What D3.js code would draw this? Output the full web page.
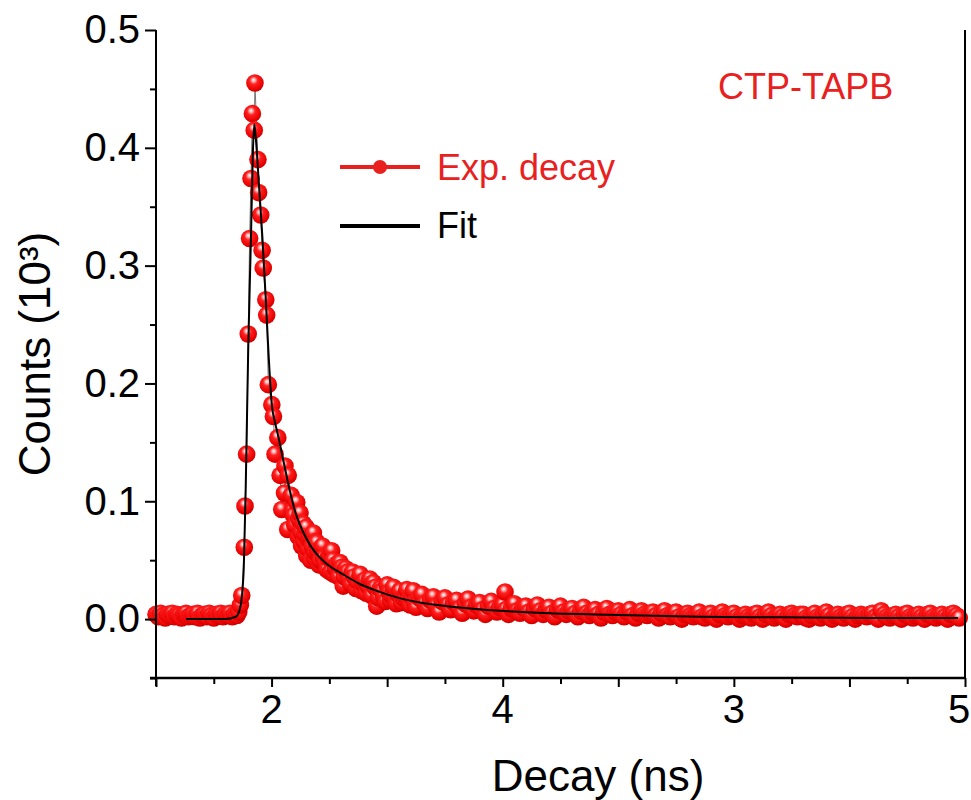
<!DOCTYPE html>
<html>
<head>
<meta charset="utf-8">
<script src="https://cdn.jsdelivr.net/npm/d3@7"></script>
<style>
  body { margin: 0; background: #fff; }
  svg { font-family: "Liberation Sans", Arial, sans-serif; display: block; }
</style>
</head>
<body>
<div id="container"></div>
<script>

// Before the pulse
const baseTime = [
  1.500, 1.510, 1.520, 1.530, 1.540, 1.550, 1.560, 1.570, 1.580, 1.590,
  1.600, 1.610, 1.620, 1.630, 1.640, 1.650, 1.660, 1.670, 1.680, 1.690,
  1.700, 1.710, 1.720, 1.730, 1.740, 1.750, 1.760, 1.770, 1.780, 1.790,
  1.800, 1.810, 1.820, 1.830, 1.840, 1.850, 1.858, 1.865
];
const baseCounts = [
  0.004, 0.002, 0.005, 0.003, 0.001, 0.004, 0.003, 0.005, 0.002, 0.004,
  0.003, 0.001, 0.004, 0.005, 0.002, 0.003, 0.004, 0.002, 0.005, 0.001,
  0.003, 0.004, 0.002, 0.005, 0.003, 0.001, 0.004, 0.003, 0.005, 0.002,
  0.004, 0.003, 0.005, 0.002, 0.004, 0.003, 0.006, 0.012
];

// Rise, peak and fast decay
const peakTime = [
  1.871, 1.882, 1.885, 1.892, 1.899, 1.905, 1.911, 1.917, 1.925, 1.928,
  1.941, 1.944, 1.953, 1.959, 1.964, 1.975, 1.979, 1.986, 2.001, 2.008,
  2.015, 2.027, 2.037, 2.044, 2.056, 2.058, 2.070, 2.072, 2.085, 2.090,
  2.095, 2.100, 2.109, 2.115, 2.118, 2.123, 2.127, 2.130, 2.137, 2.141,
  2.145, 2.149, 2.152, 2.157, 2.160, 2.165, 2.170, 2.175, 2.181, 2.185,
  2.188, 2.192, 2.195, 2.200, 2.205, 2.210, 2.215, 2.220, 2.225, 2.232,
  2.239, 2.245, 2.250, 2.255, 2.260, 2.265, 2.270, 2.277, 2.283, 2.290,
  2.296, 2.303, 2.310, 2.315, 2.320, 2.328, 2.335, 2.342, 2.350, 2.357,
  2.365, 2.372, 2.383, 2.390, 2.395, 2.402, 2.410, 2.418, 2.425, 2.432,
  2.440, 2.448, 2.455, 2.462, 2.470, 2.478, 2.485, 2.492, 2.500, 2.508,
  2.515, 2.520, 2.527, 2.534, 2.540, 2.548, 2.555, 2.562, 2.570, 2.578,
  2.585, 2.592, 2.600, 2.606, 2.613, 2.619
];
const peakCounts = [
  0.020, 0.061, 0.096, 0.140, 0.242, 0.323, 0.374, 0.429, 0.415, 0.455,
  0.390, 0.362, 0.343, 0.313, 0.298, 0.271, 0.258, 0.199, 0.182, 0.172,
  0.140, 0.154, 0.122, 0.093, 0.107, 0.130, 0.076, 0.122, 0.105, 0.092,
  0.088, 0.080, 0.099, 0.070, 0.085, 0.090, 0.074, 0.062, 0.081, 0.066,
  0.072, 0.078, 0.054, 0.060, 0.068, 0.070, 0.050, 0.062, 0.073, 0.052,
  0.057, 0.066, 0.065, 0.058, 0.046, 0.050, 0.060, 0.062, 0.052, 0.048,
  0.042, 0.052, 0.055, 0.040, 0.058, 0.050, 0.038, 0.043, 0.047, 0.036,
  0.048, 0.044, 0.028, 0.036, 0.043, 0.040, 0.034, 0.030, 0.040, 0.036,
  0.026, 0.032, 0.038, 0.024, 0.030, 0.033, 0.022, 0.028, 0.034, 0.020,
  0.031, 0.027, 0.011, 0.018, 0.026, 0.024, 0.019, 0.015, 0.029, 0.023,
  0.016, 0.020, 0.027, 0.017, 0.013, 0.021, 0.024, 0.014, 0.018, 0.020,
  0.025, 0.016, 0.012, 0.019, 0.024, 0.014
];

// Long tail
const tailTime = [
  2.6250, 2.6375, 2.6500, 2.6625, 2.6750, 2.6875, 2.7000, 2.7125, 2.7250, 2.7375,
  2.7500, 2.7625, 2.7750, 2.7875, 2.8000, 2.8125, 2.8250, 2.8375, 2.8500, 2.8625,
  2.8750, 2.8875, 2.9000, 2.9125, 2.9250, 2.9375, 2.9500, 2.9625, 2.9750, 2.9875,
  3.0000, 3.0100, 3.0125, 3.0250, 3.0375, 3.0500, 3.0625, 3.0750, 3.0875, 3.1000,
  3.1125, 3.1250, 3.1375, 3.1500, 3.1625, 3.1750, 3.1875, 3.2000, 3.2125, 3.2250,
  3.2375, 3.2500, 3.2625, 3.2750, 3.2875, 3.3000, 3.3125, 3.3250, 3.3375, 3.3500,
  3.3625, 3.3750, 3.3875, 3.4000, 3.4125, 3.4250, 3.4375, 3.4500, 3.4625, 3.4750,
  3.4875, 3.5000, 3.5125, 3.5250, 3.5375, 3.5500, 3.5625, 3.5750, 3.5875, 3.6000,
  3.6125, 3.6250, 3.6375, 3.6500, 3.6625, 3.6750, 3.6875, 3.7000, 3.7125, 3.7250,
  3.7375, 3.7500, 3.7625, 3.7750, 3.7875, 3.8000, 3.8125, 3.8250, 3.8375, 3.8500,
  3.8625, 3.8750, 3.8875, 3.9000, 3.9125, 3.9250, 3.9375, 3.9500, 3.9625, 3.9750,
  3.9875, 4.0000, 4.0125, 4.0250, 4.0375, 4.0500, 4.0625, 4.0750, 4.0875, 4.1000,
  4.1125, 4.1250, 4.1375, 4.1500, 4.1625, 4.1750, 4.1875, 4.2000, 4.2125, 4.2250,
  4.2375, 4.2500, 4.2625, 4.2750, 4.2875, 4.3000, 4.3125, 4.3250, 4.3375, 4.3500,
  4.3625, 4.3750, 4.3875, 4.4000, 4.4125, 4.4250, 4.4375, 4.4500, 4.4625, 4.4750,
  4.4875, 4.5000, 4.5125, 4.5250, 4.5375, 4.5500, 4.5625, 4.5750, 4.5875, 4.6000,
  4.6125, 4.6250, 4.6375, 4.6500, 4.6625, 4.6750, 4.6875, 4.7000, 4.7125, 4.7250,
  4.7375, 4.7500, 4.7625, 4.7750, 4.7875, 4.8000, 4.8125, 4.8250, 4.8375, 4.8500,
  4.8625, 4.8750, 4.8875, 4.9000, 4.9125, 4.9250, 4.9375, 4.9500, 4.9625, 4.9750
];
const tailCounts = [
  0.010, 0.018, 0.021, 0.013, 0.009, 0.016, 0.019, 0.011, 0.006, 0.015,
  0.018, 0.012, 0.008, 0.014, 0.016, 0.009, 0.005, 0.013, 0.017, 0.010,
  0.007, 0.012, 0.014, 0.008, 0.004, 0.011, 0.015, 0.009, 0.006, 0.010,
  0.012, 0.023, 0.008, 0.004, 0.009, 0.013, 0.007, 0.005, 0.010, 0.011,
  0.006, 0.003, 0.009, 0.012, 0.007, 0.004, 0.008, 0.010, 0.005, 0.002,
  0.008, 0.011, 0.006, 0.004, 0.007, 0.009, 0.005, 0.002, 0.007, 0.010,
  0.005, 0.003, 0.006, 0.008, 0.004, 0.001, 0.006, 0.009, 0.004, 0.003,
  0.006, 0.007, 0.004, 0.002, 0.006, 0.008, 0.003, 0.001, 0.005, 0.007,
  0.004, 0.003, 0.005, 0.006, 0.003, 0.001, 0.005, 0.007, 0.003, 0.002,
  0.005, 0.006, 0.002, 0.000, 0.004, 0.005, 0.003, 0.002, 0.004, 0.006,
  0.002, 0.001, 0.004, 0.005, 0.002, 0.000, 0.004, 0.006, 0.003, 0.002,
  0.004, 0.005, 0.002, 0.000, 0.003, 0.004, 0.002, 0.001, 0.004, 0.005,
  0.002, 0.000, 0.004, 0.006, 0.003, 0.001, 0.003, 0.004, 0.002, 0.000,
  0.004, 0.005, 0.003, 0.002, 0.004, 0.004, 0.001, 0.000, 0.003, 0.005,
  0.002, 0.001, 0.004, 0.006, 0.003, 0.000, 0.003, 0.004, 0.002, 0.001,
  0.004, 0.005, 0.002, 0.000, 0.003, 0.004, 0.003, 0.002, 0.004, 0.005,
  0.002, 0.000, 0.007, 0.004, 0.002, 0.001, 0.003, 0.004, 0.002, 0.000,
  0.004, 0.005, 0.002, 0.001, 0.003, 0.004, 0.002, 0.000, 0.004, 0.005,
  0.002, 0.001, 0.003, 0.004, 0.002, 0.000, 0.004, 0.005, 0.003, 0.001
];

// Fitted curve
const fitTime = [
  1.630, 1.800, 1.845, 1.862, 1.872, 1.880, 1.888, 1.899, 1.911, 1.919,
  1.925, 1.931, 1.945, 1.960, 1.974, 1.987, 2.001, 2.015, 2.029, 2.058,
  2.080, 2.101, 2.134, 2.166, 2.200, 2.238, 2.309, 2.380, 2.455, 2.550,
  2.642, 2.800, 2.989, 3.200, 3.400, 3.600, 3.854, 4.200, 4.600, 4.970
];
const fitCounts = [
  0.000, 0.000, 0.002, 0.008, 0.020, 0.045, 0.110, 0.229, 0.325, 0.395,
  0.420, 0.410, 0.370, 0.325, 0.275, 0.225, 0.182, 0.167, 0.155, 0.128,
  0.108, 0.092, 0.075, 0.063, 0.054, 0.047, 0.038, 0.030, 0.024, 0.018,
  0.014, 0.010, 0.007, 0.005, 0.004, 0.003, 0.002, 0.0015, 0.001, 0.001
];

// Axis ticks and labels
const yMajorTicks = [0, 0.1, 0.2, 0.3, 0.4, 0.5];
const yMinorTicks = [-0.05, 0.05, 0.15, 0.25, 0.35, 0.45];
const xMinorTicks = [1.75, 2.25, 2.75, 3.25, 3.75, 4.25, 4.75];
const xMajorTicks = [1.5, 2.0, 2.5, 3.0, 3.5, 4.0, 4.5, 5.0];
const xLabelTicks = [2, 3, 4, 5];
const xTickLabels = ["2", "4", "3", "5"];

const width = 971;
const height = 800;

const marginTop = 30;
const marginRight = 6;
const marginBottom = 122;
const marginLeft = 156;

const red = "#e8211f";

const x = d3.scaleLinear()
    .domain([1.5, 5.0])
    .range([marginLeft, width - marginRight]);

const y = d3.scaleLinear()
    .domain([-0.05, 0.5])
    .range([height - marginBottom, marginTop]);

const svg = d3.create("svg")
    .attr("width", width)
    .attr("height", height);

document.getElementById("container").append(svg.node());

// sphere look for the markers
const grad = svg.append("defs").append("radialGradient")
    .attr("id", "ball")
    .attr("cx", "45%").attr("cy", "40%").attr("r", "60%")
    .attr("fx", "42%").attr("fy", "32%");
grad.append("stop").attr("offset", "0%").attr("stop-color", "#ffffff");
grad.append("stop").attr("offset", "16%").attr("stop-color", "#ffb0b0");
grad.append("stop").attr("offset", "38%").attr("stop-color", "#ff2020");
grad.append("stop").attr("offset", "85%").attr("stop-color", "#e80000");
grad.append("stop").attr("offset", "100%").attr("stop-color", "#c40000");

const expTime = baseTime.concat(peakTime, tailTime);
const expCounts = baseCounts.concat(peakCounts, tailCounts);
const expData = d3.sort(expTime.map((t, i) => ({t: t, v: expCounts[i]})), d => d.t);
const fitData = fitTime.map((t, i) => ({t: t, v: fitCounts[i]}));

// data line (thin)
svg.append("path")
    .datum(expData)
    .attr("fill", "none")
    .attr("stroke", "#777")
    .attr("stroke-width", 1)
    .attr("d", d3.line().x(d => x(d.t)).y(d => y(d.v)));

// markers
svg.append("g")
  .selectAll("circle")
  .data(expData)
  .join("circle")
    .attr("cx", d => x(d.t))
    .attr("cy", d => y(d.v))
    .attr("r", 8.8)
    .attr("fill", "url(#ball)");

// fit line on top
svg.append("path")
    .datum(fitData)
    .attr("fill", "none")
    .attr("stroke", "#000")
    .attr("stroke-width", 2)
    .attr("d", d3.line().curve(d3.curveMonotoneX).x(d => x(d.t)).y(d => y(d.v)));

// y axis
const yAxis = svg.append("g")
    .attr("transform", `translate(${marginLeft},0)`)
    .call(d3.axisLeft(y).tickValues(yMajorTicks).tickSize(11).tickPadding(5)
      .tickFormat(d3.format(".1f")));
yAxis.select(".domain").remove();
yAxis.selectAll("text").attr("font-size", 40).attr("fill", "#000");
yAxis.selectAll("line").attr("stroke-width", 2);

svg.append("g")
    .attr("transform", `translate(${marginLeft},0)`)
    .call(d3.axisLeft(y).tickValues(yMinorTicks).tickSize(6).tickFormat(""))
    .call(g => g.select(".domain").remove())
    .selectAll("line").attr("stroke-width", 2);

svg.append("line")
    .attr("x1", marginLeft).attr("x2", marginLeft)
    .attr("y1", y(0.5)).attr("y2", y(-0.05) + 8)
    .attr("stroke", "#000").attr("stroke-width", 2);

// right border
svg.append("line")
    .attr("x1", x(5)).attr("x2", x(5))
    .attr("y1", y(0.5)).attr("y2", y(-0.05))
    .attr("stroke", "#000").attr("stroke-width", 2);

// x axis
const xAxisY = y(-0.05);
svg.append("g")
    .attr("transform", `translate(0,${xAxisY})`)
    .call(d3.axisBottom(x).tickValues(xMajorTicks).tickSize(9).tickFormat(""))
    .call(g => g.select(".domain").remove())
    .selectAll("line").attr("stroke-width", 2);

svg.append("g")
    .attr("transform", `translate(0,${xAxisY})`)
    .call(d3.axisBottom(x).tickValues(xMinorTicks).tickSize(6).tickFormat(""))
    .call(g => g.select(".domain").remove())
    .selectAll("line").attr("stroke-width", 2);

svg.append("line")
    .attr("x1", marginLeft - 6).attr("x2", x(5))
    .attr("y1", xAxisY).attr("y2", xAxisY)
    .attr("stroke", "#000").attr("stroke-width", 2.5);

svg.append("g")
  .selectAll("text")
  .data(xLabelTicks)
  .join("text")
    .attr("x", d => Math.min(x(d), width - 12))
    .attr("y", xAxisY + 45)
    .attr("text-anchor", "middle")
    .attr("font-size", 40)
    .text((d, i) => xTickLabels[i]);

// axis titles
svg.append("text")
    .attr("x", 598)
    .attr("y", height - 9)
    .attr("text-anchor", "middle")
    .attr("font-size", 44)
    .text("Decay (ns)");

svg.append("text")
    .attr("transform", `translate(50, ${(y(0.5) + y(-0.05)) / 2}) rotate(-90)`)
    .attr("text-anchor", "middle")
    .attr("font-size", 44)
    .text("Counts (10³)");

// sample name
svg.append("text")
    .attr("x", 718)
    .attr("y", 99)
    .attr("font-size", 36)
    .attr("fill", red)
    .text("CTP-TAPB");

// legend
svg.append("line")
    .attr("x1", 340).attr("x2", 420)
    .attr("y1", 167).attr("y2", 167)
    .attr("stroke", red).attr("stroke-width", 4);
svg.append("circle")
    .attr("cx", 380).attr("cy", 167).attr("r", 7)
    .attr("fill", red);
svg.append("text")
    .attr("x", 437).attr("y", 180)
    .attr("font-size", 36)
    .attr("fill", red)
    .text("Exp. decay");

svg.append("line")
    .attr("x1", 340).attr("x2", 420)
    .attr("y1", 226).attr("y2", 226)
    .attr("stroke", "#000").attr("stroke-width", 4);
svg.append("text")
    .attr("x", 437).attr("y", 238)
    .attr("font-size", 36)
    .attr("fill", "#000")
    .text("Fit");

</script>
</body>
</html>
